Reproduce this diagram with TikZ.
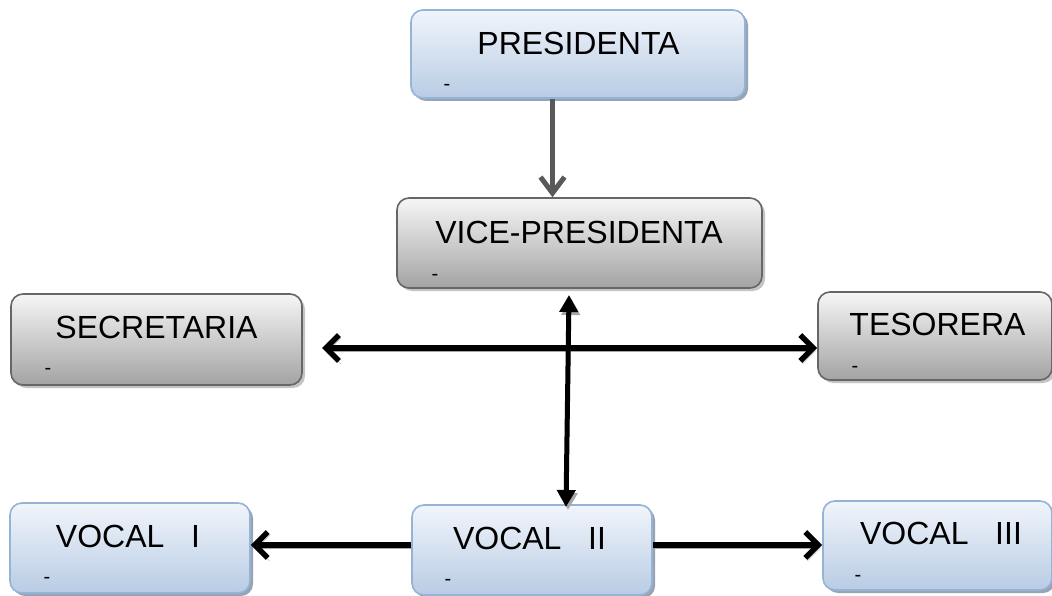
\documentclass[tikz,border=0pt]{standalone}
\usepackage{fontspec}
\setmainfont{Liberation Sans}
\usetikzlibrary{arrows.meta,shadows}
\definecolor{blueTop}{HTML}{F1F5FB}
\definecolor{blueBot}{HTML}{B8CCE4}
\definecolor{blueLine}{HTML}{95B3D7}
\definecolor{blueShadow}{HTML}{98A3B3}
\definecolor{grayTop}{HTML}{F6F6F6}
\definecolor{grayBot}{HTML}{A3A3A3}
\definecolor{grayLine}{HTML}{666666}
\definecolor{grayShadow}{HTML}{C4C4C4}
\definecolor{arrowGray}{HTML}{595959}
\definecolor{arrowShadow}{HTML}{A6A6A6}
\tikzset{barbtip/.tip={Straight Barb[length=13pt, width=26pt]},
         bigbarbtip/.tip={Straight Barb[length=16pt, width=24pt]},
         solidtip/.tip={Triangle[length=17pt, width=18pt]}}
\begin{document}
\begin{tikzpicture}[x=1pt,y=-1pt,
  box/.style={rectangle, rounded corners=12pt, line width=1.6pt, inner sep=0pt},
  bluebox/.style={box, draw=blueLine, top color=blueTop, bottom color=blueBot,
    drop shadow={shadow xshift=3pt, shadow yshift=-3pt, fill=blueShadow, opacity=1}},
  graybox/.style={box, draw=grayLine, top color=grayTop, bottom color=grayBot,
    drop shadow={shadow xshift=3pt, shadow yshift=-3pt, fill=grayShadow, opacity=1}},
  lbl/.style={font=\fontsize{32}{36}\selectfont, inner sep=0pt},
  tick/.style={font=\fontsize{20}{20}\selectfont, inner sep=0pt, anchor=base},
  blackarrow/.style={line width=5.5pt, draw=black,
    preaction={draw=arrowShadow, transform canvas={shift={(2pt,-3pt)}}}},
]
\fill[white] (0,0) rectangle (1052,596);
\useasboundingbox (0,0) rectangle (1052,596);

% boxes
\node[bluebox, minimum width=334pt, minimum height=88pt] (pres) at (578,54) {};
\node[graybox, minimum width=365pt, minimum height=90pt] (vice) at (579.5,243) {};
\node[graybox, minimum width=291pt, minimum height=91pt] (sec) at (156.5,339.5) {};
\node[graybox, minimum width=234pt, minimum height=88pt] (tes) at (935,336) {};
\node[bluebox, minimum width=240pt, minimum height=90pt] (v1) at (130,548) {};
\node[bluebox, minimum width=240pt, minimum height=90pt] (v2) at (532,550) {};
\node[bluebox, minimum width=229pt, minimum height=89pt] (v3) at (937.5,545.5) {};

% labels
\node[lbl] (presT) at (578.5,43.5) {PRESIDENTA};
\node[lbl] (viceT) at (579,232.5) {VICE-PRESIDENTA};
\node[lbl] (secT) at (156.5,327.5) {SECRETARIA};
\node[lbl] (tesT) at (937.5,324) {TESORERA};
\node[lbl] (v1T) at (128,536.5) {VOCAL\ \ \ I};
\node[lbl] (v2T) at (529.5,538) {VOCAL\ \ \ II};
\node[lbl] (v3T) at (941,533) {VOCAL\ \ \ III};

% small dashes
\node[tick] (presD) at (447,90.5) {-};
\node[tick] (viceD) at (435,280.5) {-};
\node[tick] (secD) at (48,374.5) {-};
\node[tick] (tesD) at (855,372.5) {-};
\node[tick] (v1D) at (47,583.5) {-};
\node[tick] (v2D) at (448,585.5) {-};
\node[tick] (v3D) at (858,581.5) {-};

% connector end points
\coordinate (pv) at (552.5,0);
\coordinate (hL) at (322,348);
\coordinate (vT) at (569,295);
\coordinate (vB) at (566,507);
\coordinate (hv) at (0,545);

% connectors
\draw[line width=5pt, draw=arrowGray, -{bigbarbtip}] (pres.south -| pv) -- (vice.north -| pv);
\draw[blackarrow, {barbtip}-{barbtip}] (hL) -- (hL -| tes.west);
\draw[blackarrow, line width=5pt, {solidtip}-{solidtip}] (vT) -- (vB);
\draw[blackarrow, -{barbtip}] (v2.west |- hv) -- (v1.east |- hv);
\draw[blackarrow, -{barbtip}] (v2.east |- hv) -- (v3.west |- hv);
\end{tikzpicture}
\end{document}
